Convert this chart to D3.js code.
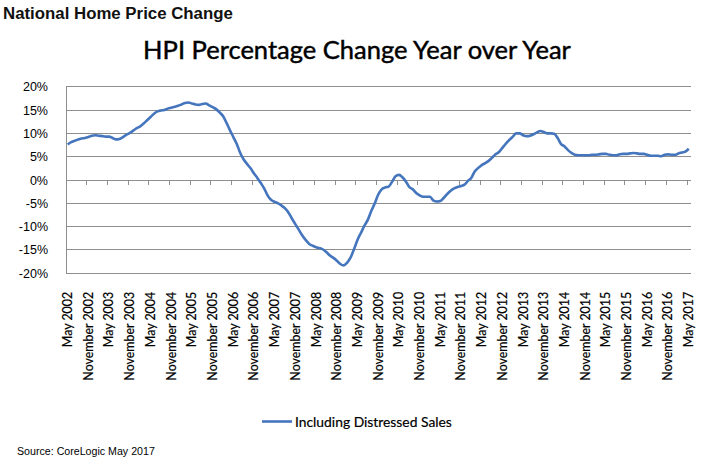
<!DOCTYPE html>
<html>
<head>
<meta charset="utf-8">
<script src="https://cdn.jsdelivr.net/npm/d3@7"></script>
<style>
  body { margin: 0; background: #fff; }
  svg { display: block; }
</style>
</head>
<body>
<svg id="chart" width="710" height="462"></svg>
<script>
// monthly values, May 2002 .. May 2017 (one row = May..April)
const hpi = [
   7.6,  8.1,  8.4,  8.7,  8.9,  9.0,  9.2,  9.5,  9.6,  9.5,  9.4,  9.3,
   9.3,  9.0,  8.7,  8.8,  9.2,  9.7, 10.1, 10.6, 11.1, 11.5, 12.1, 12.8,
  13.5, 14.2, 14.7, 14.9, 15.0, 15.3, 15.5, 15.7, 15.9, 16.2, 16.5, 16.6,
  16.4, 16.2, 16.1, 16.3, 16.4, 16.0, 15.6, 15.2, 14.5, 13.7, 12.3, 10.7,
   9.2,  7.7,  5.8,  4.4,  3.4,  2.5,  1.4,  0.4, -0.7, -1.9, -3.4, -4.3,
  -4.7, -5.0, -5.5, -6.1, -7.0, -8.3, -9.5,-10.7,-11.9,-12.9,-13.7,-14.1,
 -14.4,-14.6,-14.9,-15.5,-16.2,-16.7,-17.3,-18.0,-18.3,-17.7,-16.6,-14.8,
 -12.8,-11.3, -9.8, -8.5, -6.6, -5.0, -3.1, -2.0, -1.6, -1.4, -0.4,  0.8,
   1.1,  0.6, -0.3, -1.5, -2.0, -2.8, -3.3, -3.6, -3.6, -3.6, -4.4, -4.6,
  -4.5, -3.8, -3.0, -2.3, -1.8, -1.5, -1.3, -1.0, -0.2,  0.5,  1.9,  2.6,
   3.2,  3.6,  4.1,  4.8,  5.5,  6.0,  6.9,  7.8,  8.6,  9.3, 10.0, 10.0,
   9.6,  9.4,  9.5,  9.8, 10.2, 10.5, 10.3, 10.0, 10.0,  9.9,  9.0,  7.7,
   7.2,  6.4,  5.8,  5.4,  5.3,  5.3,  5.3,  5.3,  5.4,  5.4,  5.5,  5.6,
   5.6,  5.4,  5.3,  5.3,  5.5,  5.6,  5.6,  5.7,  5.8,  5.7,  5.6,  5.6,
   5.4,  5.2,  5.2,  5.2,  5.1,  5.4,  5.5,  5.4,  5.4,  5.7,  5.9,  6.1,
   6.7
];
const months = d3.timeMonth.range(new Date(2002, 4, 1), new Date(2017, 5, 1));
const yTicks = [-20, -15, -10, -5, 0, 5, 10, 15, 20];
const fmtMonth = d3.timeFormat("%B %Y");

const svg = d3.select("#chart");
const plotL = 66, plotR = 690.5, plotT = 86.7, plotB = 273.3;
const blue = "#4475bd", grid = "#8e8e8e";

const x = d3.scaleBand().domain(d3.range(months.length)).range([plotL, plotR]);
const y = d3.scaleLinear().domain([-20, 20]).range([plotB, plotT]);

// fit a text to a wanted width by tuning its font size
function fit(sel, width) {
  const fs = parseFloat(sel.attr("font-size"));
  const w = sel.node().getComputedTextLength();
  sel.attr("font-size", fs * width / w);
}

// headings
svg.append("text")
  .attr("x", 3).attr("y", 19)
  .attr("font-family", "Liberation Sans, Arial, sans-serif")
  .attr("font-weight", "bold").attr("font-size", 16)
  .attr("fill", "#111")
  .text("National Home Price Change")
  .call(fit, 230);

svg.append("text")
  .attr("x", 357).attr("y", 59)
  .attr("text-anchor", "middle")
  .attr("font-family", "Lato, Open Sans, sans-serif")
  .attr("font-size", 22)
  .attr("fill", "#000")
  .attr("stroke", "#000").attr("stroke-width", 0.45)
  .text("HPI Percentage Change Year over Year")
  .call(fit, 428);

// gridlines
svg.append("g")
  .selectAll("line")
  .data(yTicks)
  .join("line")
  .attr("x1", plotL).attr("x2", plotR)
  .attr("y1", d => y(d)).attr("y2", d => y(d))
  .attr("stroke", grid).attr("stroke-width", 1)
  .attr("shape-rendering", "crispEdges");

// vertical axis line
svg.append("line")
  .attr("x1", plotL).attr("x2", plotL)
  .attr("y1", plotT).attr("y2", plotB)
  .attr("stroke", grid).attr("shape-rendering", "crispEdges");

// y labels
const yAxis = svg.append("g")
  .attr("transform", `translate(${plotL - 15},0)`)
  .call(d3.axisLeft(y).tickValues(yTicks).tickSize(0).tickFormat(d => d + "%"));
yAxis.select(".domain").remove();
yAxis.selectAll("text")
  .attr("font-family", "Liberation Sans, Arial, sans-serif")
  .attr("font-size", 12.5)
  .attr("fill", "#000");

// category tick marks on the zero line, every 6 months
const bw = x.bandwidth();
svg.append("g")
  .selectAll("line")
  .data(d3.range(6, months.length, 6))
  .join("line")
  .attr("x1", d => plotL + d * bw).attr("x2", d => plotL + d * bw)
  .attr("y1", y(0)).attr("y2", y(0) + 5)
  .attr("stroke", grid).attr("shape-rendering", "crispEdges");

// x labels
const labelIdx = d3.range(0, months.length, 6);
const xAxis = svg.append("g")
  .attr("transform", `translate(0,${plotB + 18.5})`)
  .call(d3.axisBottom(x).tickValues(labelIdx).tickSize(0)
    .tickFormat(i => fmtMonth(months[i])));
xAxis.select(".domain").remove();
const xl = xAxis.selectAll("text")
  .attr("font-family", "Lato, Open Sans, sans-serif")
  .attr("font-size", 14)
  .attr("fill", "#000")
  .attr("stroke", "#000").attr("stroke-width", 0.2)
  .attr("text-anchor", "end")
  .attr("dy", "0.35em")
  .attr("y", 0).attr("x", 0)
  .attr("transform", "rotate(-90)");
{
  const n = xl.filter((d, i) => i === 1).node();
  const fs = 14 * 89 / n.getComputedTextLength();
  xl.attr("font-size", fs);
}

// the line
svg.append("path")
  .datum(hpi)
  .attr("fill", "none")
  .attr("stroke", blue)
  .attr("stroke-width", 2.6)
  .attr("stroke-linejoin", "round")
  .attr("d", d3.line()
    .x((d, i) => x(i) + bw / 2)
    .y(d => y(d))
    .curve(d3.curveMonotoneX));

// legend
svg.append("line")
  .attr("x1", 262).attr("x2", 292)
  .attr("y1", 421.5).attr("y2", 421.5)
  .attr("stroke", blue).attr("stroke-width", 2.6);
svg.append("text")
  .attr("x", 295).attr("y", 426.5)
  .attr("font-family", "Lato, Open Sans, sans-serif")
  .attr("font-size", 14)
  .attr("fill", "#000")
  .attr("stroke", "#000").attr("stroke-width", 0.2)
  .text("Including Distressed Sales")
  .call(fit, 157);

// source
svg.append("text")
  .attr("x", 17).attr("y", 455)
  .attr("font-family", "Liberation Sans, Arial, sans-serif")
  .attr("font-size", 11)
  .attr("fill", "#000")
  .text("Source: CoreLogic May 2017")
  .call(fit, 138);
</script>
</body>
</html>
